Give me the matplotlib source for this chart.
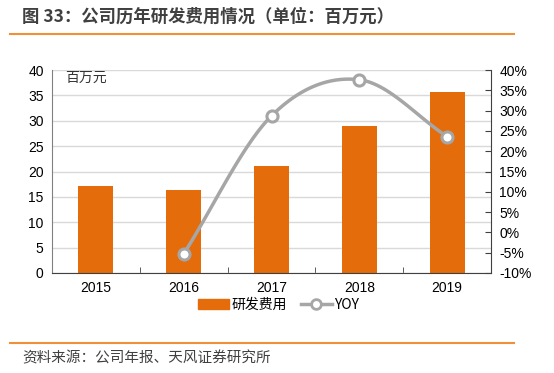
import numpy as np
import matplotlib.pyplot as plt

plt.rcParams['font.family'] = ['Liberation Sans', 'Noto Sans CJK SC', 'DejaVu Sans']

years = ['2015', '2016', '2017', '2018', '2019']
rd_cost = [17.2, 16.3, 21.0, 28.9, 35.7]          # 百万元
yoy_years = ['2016', '2017', '2018', '2019']
yoy = [-5.3, 28.7, 37.6, 23.6]                    # %

bar_color = '#E46C0A'
line_color = '#A6A6A6'
rule_color = '#F0913A'


def smooth(x, y, n=30):
    # Catmull-Rom curve through the points, like Excel's smoothed line
    x = np.asarray(x, float); y = np.asarray(y, float)
    px = np.concatenate([[2 * x[0] - x[1]], x, [2 * x[-1] - x[-2]]])
    py = np.concatenate([[2 * y[0] - y[1]], y, [2 * y[-1] - y[-2]]])
    xs, ys = [], []
    t = np.linspace(0, 1, n)
    for i in range(1, len(px) - 2):
        for p, out in ((px, xs), (py, ys)):
            p0, p1, p2, p3 = p[i - 1], p[i], p[i + 1], p[i + 2]
            out.append(0.5 * (2 * p1 + (-p0 + p2) * t + (2 * p0 - 5 * p1 + 4 * p2 - p3) * t ** 2
                              + (-p0 + 3 * p1 - 3 * p2 + p3) * t ** 3))
    return np.concatenate(xs), np.concatenate(ys)


fig = plt.figure(figsize=(5.54, 3.73), dpi=100)
ax = fig.add_axes([52 / 554, 1 - 273 / 373, 439 / 554, 203 / 373])

x = np.arange(len(years))
ax.bar(x, rd_cost, width=0.4, color=bar_color, label='研发费用', zorder=2)
ax.set_xlim(-0.5, len(years) - 0.5)
ax.set_ylim(0, 40)
ax.set_yticks(np.arange(0, 41, 5))
ax.set_xticks(x)
ax.set_xticklabels(years)
ax.set_xticks(np.arange(-0.5, len(years), 1)[1:-1], minor=True)
ax.tick_params(axis='x', which='major', length=0, pad=6, labelsize=10)
ax.tick_params(axis='x', which='minor', length=4, direction='in', color='#404040')
ax.tick_params(axis='y', length=0, pad=6, labelsize=10)
ax.grid(axis='y', color='#D9D9D9', linewidth=1, zorder=0)
for s in ['top', 'right']:
    ax.spines[s].set_visible(False)
ax.spines['left'].set_color('#808080')
ax.spines['bottom'].set_color('#404040')
ax.text(0.03, 0.995, '百万元', transform=ax.transAxes, ha='left', va='top', fontsize=10,
        family=['Noto Sans CJK SC'], color='#333333')

ax2 = ax.twinx()
xi = [years.index(y) for y in yoy_years]
sx, sy = smooth(xi, yoy)
ax2.plot(sx, sy, color=line_color, linewidth=2.5, zorder=3)
ax2.plot(xi, yoy, 'o', color=line_color, markerfacecolor='white', markeredgewidth=2.2,
         markersize=8, zorder=4)
ax2.set_ylim(-10, 40)
ax2.set_yticks(np.arange(-10, 41, 5))
ax2.set_yticklabels([f'{v}%' for v in range(-10, 41, 5)])
ax2.tick_params(axis='y', length=4, direction='in', color='#404040', pad=6, labelsize=10)
for s in ['top', 'left', 'bottom']:
    ax2.spines[s].set_visible(False)
ax2.spines['right'].set_color('#404040')

handles = [plt.Rectangle((0, 0), 1, 1, color=bar_color),
           plt.Line2D([], [], color=line_color, linewidth=2.5, marker='o',
                      markerfacecolor='white', markeredgewidth=2, markersize=7)]
fig.legend(handles, ['研发费用', 'YOY'], loc='center', bbox_to_anchor=(279 / 554, 1 - 305 / 373),
           ncol=2, frameon=False, handlelength=2.2, handletextpad=0.2,
           columnspacing=1.0, prop={'family': ['Noto Sans CJK SC'], 'size': 10})

fig.text(22 / 554, 1 - 17 / 373, '图 33：公司历年研发费用情况（单位：百万元）', ha='left', va='center',
         fontsize=12.5, fontweight='bold', color='#404040', family=['Noto Sans CJK SC'])
fig.add_artist(plt.Line2D([10 / 554, 514 / 554], [1 - 34 / 373] * 2, color=rule_color, linewidth=1.5))
fig.add_artist(plt.Line2D([10 / 554, 514 / 554], [1 - 343 / 373] * 2, color=rule_color, linewidth=1.5))
fig.text(22 / 554, 1 - 358 / 373, '资料来源：公司年报、天风证券研究所', ha='left', va='center',
         fontsize=10.5, color='#404040', family=['Noto Sans CJK SC'])

fig.savefig('out.png', dpi=100)
